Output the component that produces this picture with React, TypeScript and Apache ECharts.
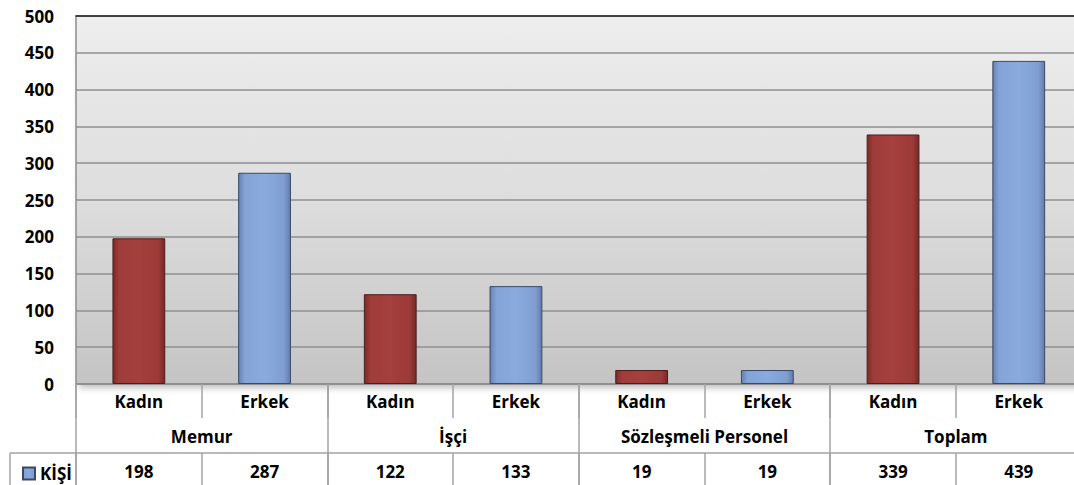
import React, { useEffect, useRef } from "react";
import * as echarts from "echarts";

const subCategories = ["Kadın", "Erkek", "Kadın", "Erkek", "Kadın", "Erkek", "Kadın", "Erkek"];
const groups = ["Memur", "İşçi", "Sözleşmeli Personel", "Toplam"];
const values = [198, 287, 122, 133, 19, 19, 339, 439];
const seriesName = "KİŞİ";
const yTicks = { min: 0, max: 500, interval: 50 };

const FONT = "'Open Sans', 'DejaVu Sans', sans-serif";

const redFill = new echarts.graphic.LinearGradient(0, 0, 1, 0, [
  { offset: 0, color: "#7a2b2a" },
  { offset: 0.12, color: "#9f3d3b" },
  { offset: 0.5, color: "#a4403e" },
  { offset: 0.88, color: "#9b3a38" },
  { offset: 1, color: "#772928" },
]);
const blueFill = new echarts.graphic.LinearGradient(0, 0, 1, 0, [
  { offset: 0, color: "#6781b2" },
  { offset: 0.12, color: "#84a3d6" },
  { offset: 0.5, color: "#8aaadd" },
  { offset: 0.88, color: "#7f9dd0" },
  { offset: 1, color: "#627cab" },
]);

export default function App() {
  const ref = useRef<HTMLDivElement>(null);
  useEffect(() => {
    if (!ref.current) return;
    const chart = echarts.init(ref.current, undefined, { renderer: "svg" });
    const labelStyle = { fontFamily: FONT, fontWeight: "bold" as const, fontSize: 17, color: "#000" };
    const tableLine = { color: "#a3a3a3", width: 1.5 };
    chart.setOption({
      animation: false,
      backgroundColor: "#ffffff",
      grid: {
        left: 76,
        top: 16,
        width: 1005.6,
        height: 368,
        show: true,
        borderWidth: 0,
        backgroundColor: new echarts.graphic.LinearGradient(0, 0, 0, 1, [
          { offset: 0, color: "#eeeeee" },
          { offset: 0.5, color: "#dddddd" },
          { offset: 1, color: "#c4c4c4" },
        ]),
        shadowColor: "rgba(0,0,0,0.25)",
        shadowBlur: 6,
        shadowOffsetX: 3,
        shadowOffsetY: 4,
      },
      legend: {
        data: [seriesName],
        left: 17,
        top: 460,
        icon: "rect",
        itemWidth: 12,
        itemHeight: 12,
        textStyle: { ...labelStyle },
      },
      xAxis: [
        {
          type: "category",
          data: subCategories,
          position: "bottom",
          axisLine: { show: true, lineStyle: { color: "#8c8c8c", width: 1.5 } },
          axisTick: { show: true, interval: 0, length: 34, lineStyle: tableLine },
          axisLabel: { ...labelStyle, interval: 0, margin: 9 },
        },
        {
          type: "category",
          data: groups,
          position: "bottom",
          offset: 0,
          axisLine: { show: false },
          axisTick: { show: true, interval: 0, length: 102, lineStyle: tableLine },
          axisLabel: { ...labelStyle, interval: 0, margin: 44 },
        },
        {
          type: "category",
          data: values.map(String),
          position: "bottom",
          offset: 69,
          axisLine: { show: true, lineStyle: tableLine },
          axisTick: { show: true, interval: 0, length: 34, lineStyle: tableLine },
          axisLabel: { ...labelStyle, interval: 0, margin: 10 },
        },
        {
          type: "category",
          data: subCategories,
          position: "top",
          axisLine: { show: true, lineStyle: { color: "#1e1e1e", width: 1.5 } },
          axisTick: { show: false },
          axisLabel: { show: false },
        },
      ],
      yAxis: {
        type: "value",
        min: yTicks.min,
        max: yTicks.max,
        interval: yTicks.interval,
        axisLine: { show: true, lineStyle: { color: "#8c8c8c", width: 1.5 } },
        axisTick: { show: false },
        axisLabel: { ...labelStyle, margin: 22 },
        splitLine: { show: true, lineStyle: { color: "#8f8f8f", width: 1.5 } },
      },
      graphic: [
        {
          type: "line",
          shape: { x1: 10, y1: 453, x2: 76, y2: 453 },
          style: { stroke: "#a3a3a3", lineWidth: 1.5 },
        },
        {
          type: "line",
          shape: { x1: 10, y1: 453, x2: 10, y2: 490 },
          style: { stroke: "#a3a3a3", lineWidth: 1.5 },
        },
      ],
      series: [
        {
          name: seriesName,
          type: "bar",
          xAxisIndex: 0,
          barWidth: "42%",
          itemStyle: { color: blueFill, borderColor: "#3b4964", borderWidth: 1 },
          data: values.map((v, i) =>
            i % 2 === 0
              ? { value: v, itemStyle: { color: redFill, borderColor: "#4d1d1c", borderWidth: 1 } }
              : { value: v }
          ),
        },
      ],
    });
    return () => chart.dispose();
  }, []);
  return (
    <div
      style={{
        position: "absolute",
        left: 0,
        top: 0,
        width: 1074,
        height: 485,
        overflow: "hidden",
        background: "#fff",
      }}
    >
      <div ref={ref} style={{ width: 1090, height: 485 }} />
    </div>
  );
}
